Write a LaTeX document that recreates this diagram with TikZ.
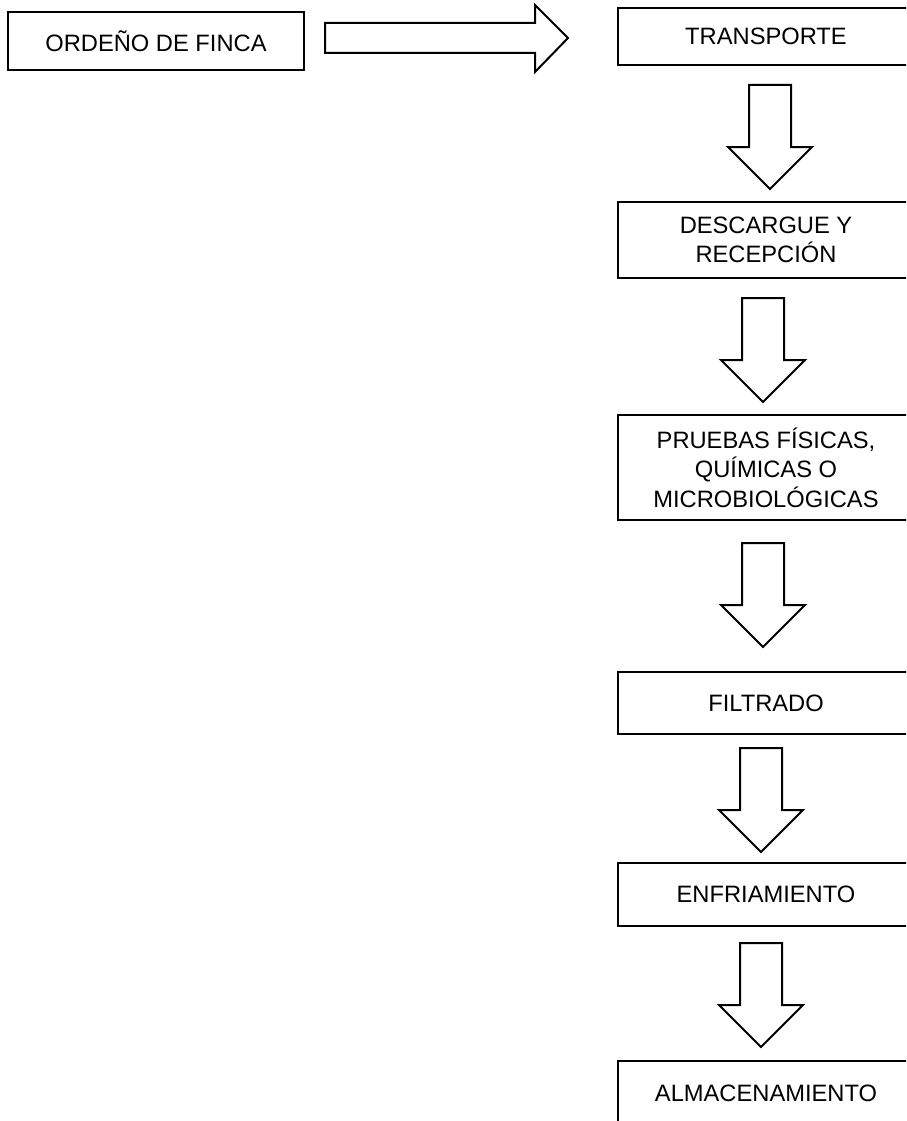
\documentclass[tikz,border=0pt]{standalone}
\usepackage{fontspec}
\setmainfont{Liberation Sans}
\tikzset{
  box/.style={draw=black, line width=2pt, fill=white, minimum width=296pt, inner sep=0pt, align=center,
              font=\fontsize{23.7}{29.5}\selectfont},
  blk/.style={draw=black, line width=2pt, fill=white, line join=miter},
}
% down block arrow: #1 = centre x, #2 = top y (pixels, y downward)
\newcommand\blkdown[2]{%
  \draw[blk] (#1-21,#2) -- (#1+21,#2) -- (#1+21,#2+62) -- (#1+42,#2+62) -- (#1,#2+104)
     -- (#1-42,#2+62) -- (#1-21,#2+62) -- cycle;}
\begin{document}
\begin{tikzpicture}[x=1pt,y=-1pt]
\path[use as bounding box] (0,0) rectangle (906,1121);
\clip (0,0) rectangle (906,1121);
\fill[white] (0,0) rectangle (906,1121);

\node[box, minimum height=58pt] (o) at (156,41) {ORDEÑO DE FINCA};
\node[box, minimum height=57pt] (t) at (766,36.5) {TRANSPORTE};
\node[box, minimum height=76pt] (d) at (766,240) {DESCARGUE Y\\RECEPCIÓN};
\node[box, minimum height=105pt] (p) at (766,467.5) {PRUEBAS FÍSICAS,\\QUÍMICAS O\\MICROBIOLÓGICAS};
\node[box, minimum height=62pt] (f) at (766,703) {FILTRADO};
\node[box, minimum height=63pt] (e) at (766,894.5) {ENFRIAMIENTO};
\node[box, minimum height=64pt] (a) at (766,1093) {ALMACENAMIENTO};

% horizontal block arrow from (o) to (t)
\draw[blk] (325,23) -- (535,23) -- (535,5) -- (568,38) -- (535,72) -- (535,53) -- (325,53) -- cycle;

\blkdown{770}{85}
\blkdown{763}{298}
\blkdown{763}{543}
\blkdown{761}{748}
\blkdown{761}{943}
\end{tikzpicture}
\end{document}
